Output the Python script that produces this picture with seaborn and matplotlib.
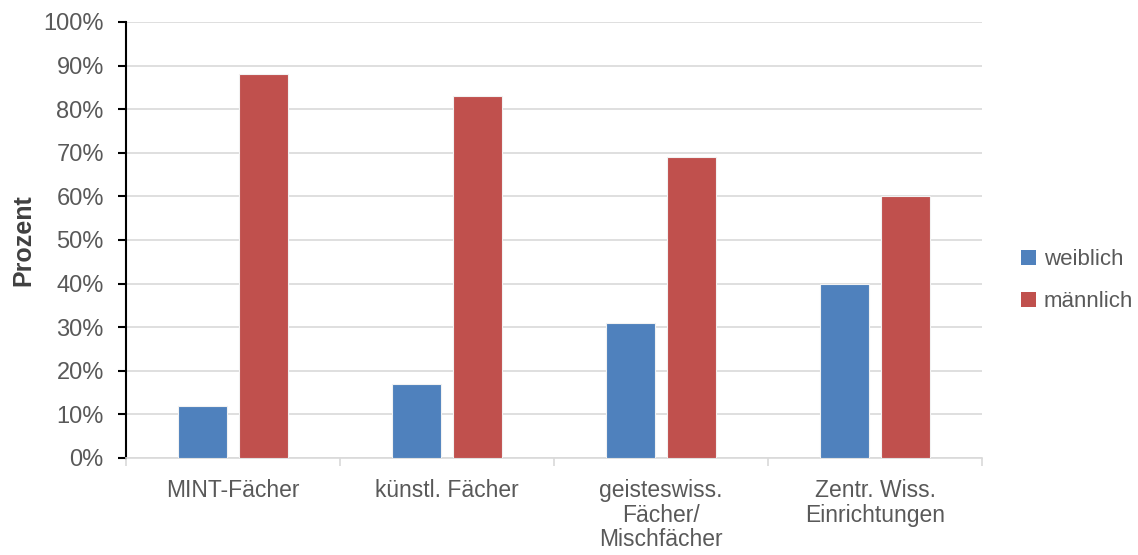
import numpy as np
import pandas as pd
import seaborn as sns
import matplotlib.pyplot as plt
from matplotlib.patches import Patch
from matplotlib.ticker import FixedLocator

categories = ["MINT-Fächer", "künstl. Fächer", "geisteswiss.\nFächer/\nMischfächer", "Zentr. Wiss.\nEinrichtungen"]
weiblich = [12, 17, 31, 40]
maennlich = [88, 83, 69, 60]
series = ["weiblich", "männlich"]
colors = ["#4F81BD", "#C0504D"]

df = pd.DataFrame({
    "Kategorie": categories * 2,
    "Geschlecht": [series[0]] * 4 + [series[1]] * 4,
    "Prozent": weiblich + maennlich,
})

sns.set_style("white")
plt.rcParams["font.family"] = ["Liberation Sans", "DejaVu Sans"]

fig = plt.figure(figsize=(11.38, 5.55), dpi=100)
ax = fig.add_axes([0.1107, 0.1748, 0.7523, 0.7856])

sns.barplot(data=df, x="Kategorie", y="Prozent", hue="Geschlecht",
            palette=colors, saturation=1, width=0.57, gap=0.2, ax=ax, legend=False,
            edgecolor="#f2f2f2", linewidth=0.8, zorder=3)

ax.set_ylim(0, 100)
ax.set_xlim(-0.5, 3.5)
ax.set_yticks(np.arange(0, 101, 10))
ax.set_yticklabels([f"{v}%" for v in range(0, 101, 10)], color="#595959", fontsize=17)
ax.yaxis.grid(True, color="#D9D9D9", linewidth=1.2, zorder=0)
ax.set_axisbelow(True)

ax.set_xticks(range(4))
ax.set_xticklabels(categories, color="#595959", fontsize=16.5, linespacing=1.1)
ax.tick_params(axis="x", which="major", length=0, pad=15)
ax.xaxis.set_minor_locator(FixedLocator([-0.5, 0.5, 1.5, 2.5, 3.5]))
ax.tick_params(axis="x", which="minor", length=6, color="#D9D9D9", width=1.2, direction="out", bottom=True)
ax.tick_params(axis="y", length=6, color="black", width=1.5, direction="out", left=True, pad=10)

for s in ["top", "right"]:
    ax.spines[s].set_visible(False)
ax.spines["left"].set_color("black")
ax.spines["left"].set_linewidth(1.5)
ax.spines["bottom"].set_color("#D9D9D9")
ax.spines["bottom"].set_linewidth(1.2)

ax.set_xlabel("")
ax.set_ylabel("Prozent", fontsize=18, fontweight="bold", color="#404040", labelpad=6)

handles = [Patch(facecolor=c, edgecolor="none") for c in colors]
fig.legend(handles, series, loc="center left", bbox_to_anchor=(0.88, 0.494),
           frameon=False, fontsize=16, labelcolor="#595959", handlelength=0.65,
           handleheight=0.65, handletextpad=0.35, labelspacing=0.95)

fig.savefig("out.png", dpi=100)
